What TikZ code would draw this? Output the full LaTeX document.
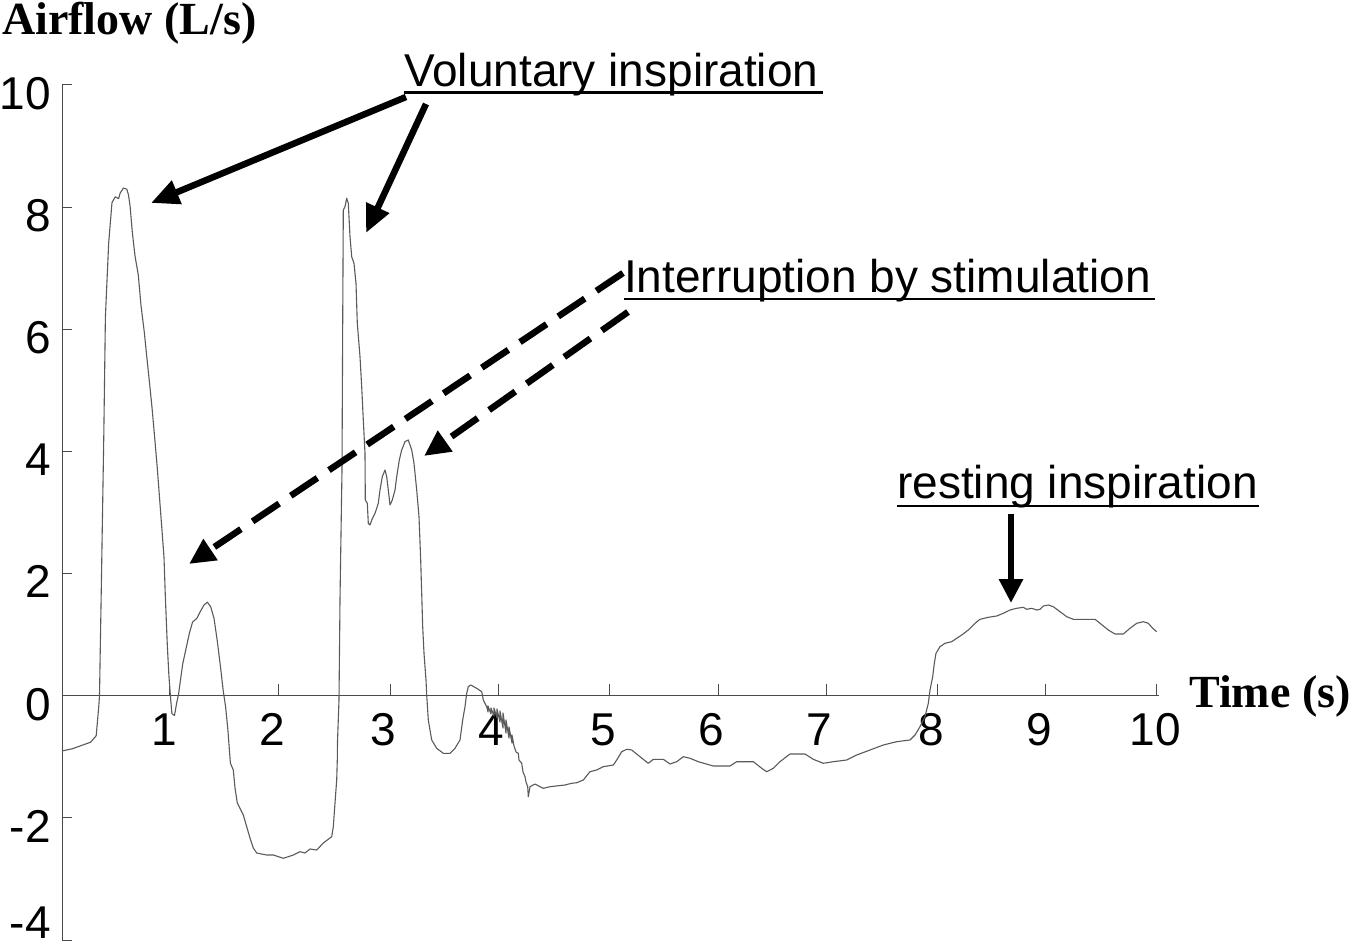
\documentclass[tikz,border=0pt]{standalone}
\usepackage{fontspec}
\setmainfont{Liberation Sans}
\newfontfamily\serifbf{Liberation Serif}
\usetikzlibrary{arrows.meta}
\definecolor{tracegray}{HTML}{5A5A5A}
\definecolor{axisgray}{HTML}{4A4A4A}
\begin{document}
\begin{tikzpicture}[x=1pt,y=-1pt,
  trace/.style={draw=tracegray,line width=1.1pt,line join=round},
  axisline/.style={draw=axisgray,line width=1pt},
  ticklbl/.style={inner sep=0pt,font=\fontsize{46}{50}\selectfont},
  ann/.style={inner sep=0pt,anchor=base west,font=\fontsize{46}{50}\selectfont},
  axtitle/.style={inner sep=0pt,anchor=base west,font=\fontsize{46}{50}\selectfont\serifbf\bfseries},
  uline/.style={draw=black,line width=2.6pt},
  solidarrow/.style={draw=black,line width=6.5pt,-{Triangle[length=28pt,width=24pt]}},
  dasharrow/.style={draw=black,line width=6.5pt,dash pattern=on 32pt off 14pt,-{Triangle[length=26pt,width=24pt]}}]
\useasboundingbox (0,0) rectangle (1350,949);
\fill[white] (0,0) rectangle (1350,949);

% axes
\draw[axisline] (62,85) -- (62,940);
\draw[axisline] (62,695.7) -- (1159,695.7);
\foreach \yy in {85,207.1,329.3,451.4,573.6,817.8,940}
  \draw[axisline] (62,\yy) -- (72,\yy);
\foreach \xx in {169,278.7,390,498.7,609.7,718.3,826.3,937.7,1045.7,1156.7}
  \draw[axisline] (\xx,695.7) -- (\xx,683.5);

% y tick labels
\foreach \v/\yy in {10/109.5,8/231.5,6/353.5,4/475.5,2/597.5,0/720,-2/842,-4/938}
  \node[ticklbl,anchor=base east] (ylab\v) at (51,\yy) {\v};
% x tick labels
\foreach \v/\xx in {1/164,2/272,3/383.5,4/491,5/603,6/711,7/819.5,8/931,9/1039.5,10/1155.5}
  \node[ticklbl,anchor=base] (xlab\v) at (\xx,745) {\v};

% axis titles
\node[axtitle] (ytitle) at (2,35) {Airflow (L/s)};
\node[axtitle] (xtitle) at (1189,707) {Time (s)};

% trace
\draw[trace] (62,751) -- (72.5,748.7) -- (80,746) -- (90.6,742.2) -- (96.2,735.7) -- (98.8,706) -- (99.5,695.7) -- (101.5,576.3) -- (103.8,435.2) -- (105.4,317) -- (108.7,242.6) -- (112,202.5) -- (115.3,196.8) -- (118.6,198.7) -- (120.2,193) -- (123.5,188) -- (126.8,189.2) -- (128.5,194.9) -- (130.1,206.3) -- (132.4,233) -- (135,255.9) -- (138.3,275) -- (141,305.5) -- (144.3,332.2) -- (146.6,355) -- (149.8,385.6) -- (152.1,408.5) -- (154.8,439) -- (157.4,469.5) -- (159.7,500) -- (162,530.5) -- (164,557.2) -- (165.3,595.4) -- (167.3,645) -- (168.9,675.5) -- (170.6,698.3) -- (171.9,713.6) -- (174.5,715.5) -- (176.8,702.2) -- (178.5,694.5) -- (182.7,664) -- (186,648.8) -- (189.3,633.5) -- (192.6,622) -- (196.9,618.3) -- (200.8,610.6) -- (204.1,604.9) -- (207.4,602.2) -- (210.7,606.8) -- (214,618.3) -- (217.3,641.1) -- (220.6,667.8) -- (223.2,690.7) -- (225.5,706) -- (227.8,728.9) -- (230.4,763.2) -- (233.3,770) -- (235,788) -- (237.3,803) -- (243.3,815) -- (246.7,826.7) -- (250,838) -- (253.3,848) -- (256.7,853) -- (266.7,855) -- (273.3,855) -- (283.3,858.3) -- (293.3,855) -- (300,851.7) -- (305,853) -- (310,849) -- (316.7,850) -- (323.3,843) -- (331.7,836.7) -- (333.3,826.7) -- (335,803) -- (336.7,780) -- (337.3,760) -- (337.5,741.7) -- (339,700) -- (340,600) -- (340.7,553) -- (342,470) -- (342.7,323.3) -- (343.3,210) -- (345,206.7) -- (346.7,198.3) -- (348.3,203.3) -- (350,236.7) -- (351.7,256.7) -- (354,263.3) -- (356,283.3) -- (357.3,323.3) -- (360,356.7) -- (361.7,386.7) -- (363.3,420) -- (365,453.3) -- (365.3,500) -- (367.3,503.3) -- (368.3,523.3) -- (370,525) -- (371.7,520) -- (375,513.3) -- (378.3,503.3) -- (380,490) -- (382.3,476.7) -- (385,470) -- (386.7,476.7) -- (388.3,490) -- (390,505) -- (392.3,500) -- (395,490) -- (396.7,476.7) -- (399.3,460) -- (401.7,450) -- (405,441.7) -- (408.3,440) -- (411.7,450) -- (414,463.3) -- (416.7,490) -- (419,516.7) -- (420.7,560) -- (421.5,586.7) -- (422.7,626.7) -- (424,653.3) -- (426,680) -- (426.7,695) -- (428.3,720) -- (431.7,740) -- (436.7,748.3) -- (443.3,753.3) -- (450,753.3) -- (455,748.3) -- (460,740) -- (462.7,720) -- (465,706.7) -- (466.7,693.3) -- (468.3,686.7) -- (470.7,685) -- (476.7,688.3) -- (481.7,691.7) -- (483.3,700) -- (486.7,706.7) -- (488,712) -- (488,706) -- (491,714) -- (491,708) -- (494,716) -- (494,708) -- (497,718) -- (497,709) -- (500,722) -- (500,711) -- (503,728) -- (503,713) -- (506,733) -- (506,720) -- (509,738) -- (509,727) -- (512,743) -- (512,735) -- (514,746) -- (516,752) -- (518.3,753.3) -- (519,760) -- (521.7,763.3) -- (523,772) -- (525,776.7) -- (526,782) -- (527.7,786.7) -- (528.3,796.7) -- (530,786.7) -- (535,784) -- (540,786.7) -- (543.3,788.3) -- (550,786.7) -- (565,785) -- (571.7,783.3) -- (576.7,782.7) -- (583.3,780) -- (590,771.7) -- (596.7,770) -- (603.3,766.7) -- (613.3,765) -- (616.7,760) -- (621.7,751.7) -- (626.7,749.3) -- (631.7,750) -- (640,756.7) -- (648.3,763.3) -- (653.3,759.3) -- (663.3,759.3) -- (670,764) -- (676.7,761.7) -- (683.3,756.7) -- (690,758.3) -- (698.3,761.7) -- (713.3,766) -- (730,766) -- (736.7,761.7) -- (753.3,761.7) -- (761.7,768.3) -- (766.7,771.7) -- (773.3,768.3) -- (780,761.7) -- (790,754) -- (805,754) -- (813.3,759.3) -- (823.3,763.3) -- (833.3,761.7) -- (846.7,760) -- (856.7,755) -- (870,750) -- (883.3,745) -- (896.7,741.7) -- (910,740) -- (915,735) -- (920,726.7) -- (925,716.7) -- (928.3,703.3) -- (930,690) -- (932.7,676.7) -- (934.3,663.3) -- (936,653.3) -- (940,646.7) -- (945,643.3) -- (951.7,641.7) -- (956.7,638.3) -- (961.7,635) -- (968.3,630) -- (975,623.3) -- (980,619.3) -- (988.3,617.3) -- (996.7,616) -- (1003.3,613.3) -- (1010,610) -- (1016.7,608.3) -- (1023.3,607.3) -- (1026.7,609.3) -- (1031.7,608.3) -- (1036.7,610) -- (1040,609.3) -- (1043.3,606) -- (1048.3,605) -- (1053.3,606.7) -- (1060,611.7) -- (1066.7,616.7) -- (1073.3,619.3) -- (1081.7,619.3) -- (1095,619.3) -- (1100,623.3) -- (1108.3,630) -- (1115,634) -- (1123.3,634) -- (1130,628.3) -- (1136.7,623.3) -- (1143.3,621.7) -- (1148.3,623.3) -- (1152.7,628.3) -- (1156.7,631.7);

% annotations
\node[ann] (vol) at (404,87) {Voluntary inspiration};
\node[ann] (intr) at (624,293) {Interruption by stimulation};
\node[ann] (rest) at (897,498) {resting inspiration};
\draw[uline] (404,92.5) -- (823,92.5);
\draw[uline] (624,299) -- (1155,299);
\draw[uline] (897,506) -- (1259,506);

% arrow end points
\coordinate (v1s) at (406,97);
\coordinate (v1e) at (151,203);
\coordinate (v2s) at (426,104);
\coordinate (v2e) at (366,233);
\coordinate (i1s) at (623,273);
\coordinate (i1e) at (189,564);
\coordinate (i2s) at (628,312);
\coordinate (i2e) at (424,456);
\coordinate (rs) at (1011,514);
\coordinate (re) at (1011,603);

\draw[solidarrow] (v1s) -- (v1e);
\draw[solidarrow] (v2s) -- (v2e);
\draw[dasharrow] (i1s) -- (i1e);
\draw[dasharrow] (i2s) -- (i2e);
\draw[solidarrow,-{Triangle[length=24pt,width=23pt]}] (rs) -- (re);
\end{tikzpicture}
\end{document}
